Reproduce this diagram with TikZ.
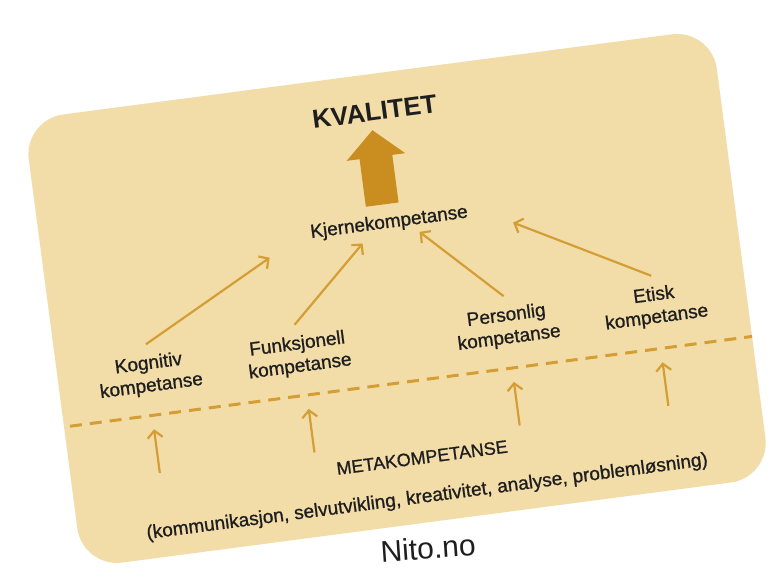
\documentclass[tikz,border=0pt]{standalone}
\usepackage{fontspec}
\setmainfont{Liberation Sans}
\newfontfamily\medfont[FakeBold=0.9]{Liberation Sans}
\usetikzlibrary{arrows.meta}
\definecolor{cardfill}{HTML}{F2DCA8}
\definecolor{gold}{HTML}{D49E35}
\definecolor{darkgold}{HTML}{C98E1F}
\definecolor{ink}{HTML}{1E1E1E}

\tikzset{
   lbl/.style={text=ink, align=center, inner sep=0pt, font=\medfont\fontsize{19}{22.5}\selectfont},
   kompbox/.style={lbl, inner ysep=11pt},
   link/.style={draw=gold, line width=2.2pt, -{Straight Barb[length=7pt,width=15pt]}},
   divider/.style={draw=gold, line width=3pt, dash pattern=on 12pt off 8pt}
}

\begin{document}
\begin{tikzpicture}[x=1pt,y=-1pt]
   \fill[white] (0,0) rectangle (779,580);
   \useasboundingbox (0,0) rectangle (779,580);
   \begin{scope}[rotate around={7.5:(400,290)}, transform shape]
       % card
       \fill[cardfill, rounded corners=40pt] (49,72) rectangle (743,524);
       \draw[divider] (55,382) -- (743,382);

       % top
       \node[lbl, font=\bfseries\fontsize{26}{30}\selectfont] (kval) at (398,110) {KVALITET};
       \fill[darkgold] (377,203) -- (377,155) -- (364,155) -- (393.5,128)
          -- (423,155) -- (410,155) -- (410,203) -- cycle;
       \node[lbl] (kjerne) at (398,222) {Kjernekompetanse};

       % the four competences
       \node[kompbox] (kog)   at (141,342) {Kognitiv\\kompetanse};
       \node[kompbox] (funk)  at (291,342) {Funksjonell\\kompetanse};
       \node[kompbox] (pers)  at (502,341) {Personlig\\kompetanse};
       \node[kompbox] (etisk) at (651,340) {Etisk\\kompetanse};

       \coordinate (toKog)   at (275,241);
       \coordinate (toFunk)  at (369,239);
       \coordinate (toPers)  at (427,235);
       \coordinate (toEtisk) at (521,238);
       \draw[link] (kog.north) -- (toKog);
       \draw[link] (funk.north) -- (toFunk);
       \draw[link] (pers.north) -- (toPers);
       \draw[link] (etisk.north) -- (toEtisk);

       % meta level
       \foreach \x [count=\i] in {138,294,501,651}{
          \coordinate (meta\i) at (\x,440);
          \draw[link] (meta\i) -- ++(0,-44);
       }
       \node[lbl, font=\medfont\fontsize{18}{22}\selectfont] (meta) at (400,459) {METAKOMPETANSE};
       \node[lbl] (liste) at (400,499) {(kommunikasjon, selvutvikling, kreativitet, analyse, problemløsning)};
   \end{scope}
   \node[text=ink, inner sep=0pt, rotate=4, font=\fontsize{30}{34}\selectfont] (nito) at (428,548) {Nito.no};
\end{tikzpicture}
\end{document}
